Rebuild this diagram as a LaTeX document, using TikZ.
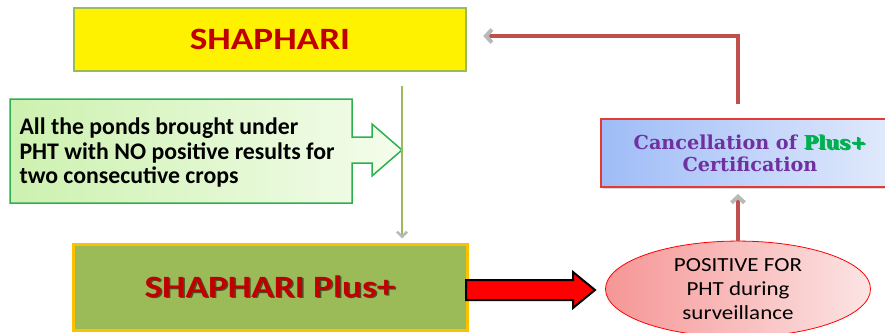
\documentclass[tikz,border=0pt]{standalone}
\usepackage{fontspec}
\setmainfont{Carlito}
\newfontfamily\widesans[FakeStretch=1.2]{Carlito}
\newfontfamily\ovalsans[FakeStretch=1.15]{Carlito}
\newfontfamily\slabserif{DejaVu Serif}
\usetikzlibrary{arrows.meta,shapes.geometric,shadows}
\definecolor{olivegreen}{HTML}{9BBB59}
\definecolor{darkred}{HTML}{C00000}
\definecolor{amber}{HTML}{FFC000}
\definecolor{linkred}{HTML}{C0504D}
\definecolor{calloutgreen}{HTML}{2DB04E}
\definecolor{purpletext}{HTML}{7030A0}
\definecolor{plusgreen}{HTML}{00B050}
\newcommand\ghosted[2]{\rlap{\color{#1}\kern1.5pt\raisebox{-1.5pt}{#2}}#2}
\begin{document}
\begin{tikzpicture}[x=1pt,y=-1pt,
  box/.style={draw,line width=2.5pt,minimum width=392pt,minimum height=63pt,
    font=\widesans\bfseries\fontsize{31}{31}\selectfont,text=darkred},
  redline/.style={draw=linkred,line width=4pt,
    -{Straight Barb[color=gray!55,length=6pt,width=13pt]}},
  greenline/.style={draw=olivegreen,line width=2.5pt,
    -{Straight Barb[color=gray!55,length=5pt,width=10pt]}}]
\path[use as bounding box] (0,0) rectangle (885,332);
\clip (0,0) rectangle (885,332);

\node[box,draw=olivegreen,fill=yellow] (shaphari) at (270,39.5) {SHAPHARI};
\node[box,draw=amber,fill=olivegreen,line width=3pt,minimum width=394pt,
  minimum height=86pt] (plus) at (270,287)
  {\ghosted{black!55!olivegreen}{SHAPHARI Plus+}};

% callout with the arrow
\path[draw=calloutgreen,line width=1.5pt,left color={rgb,255:red,205;green,241;blue,176},
  right color={rgb,255:red,244;green,253;blue,236}]
  (10,99) -- (352,99) -- (352,137) -- (372,137) -- (372,124) -- (402,150)
  -- (372,176) -- (372,163) -- (352,163) -- (352,203) -- (10,203) -- cycle;
\node[anchor=west,align=left,font=\bfseries\fontsize{23.8}{24.5}\selectfont]
  (ponds) at (16,153)
  {All the ponds brought under\\PHT with NO positive results for\\two consecutive crops};

\node[ellipse,draw=red,line width=0.8pt,minimum width=265pt,minimum height=88pt,
  left color={rgb,255:red,246;green,150;blue,150},
  right color={rgb,255:red,252;green,228;blue,228},
  align=center,font=\ovalsans\fontsize{20}{24}\selectfont] (positive) at (738,289)
  {POSITIVE FOR\\PHT during\\surveillance};

\node[draw={rgb,255:red,229;green,57;blue,53},line width=2pt,
  minimum width=298pt,minimum height=68pt,
  left color={rgb,255:red,158;green,188;blue,247},
  right color={rgb,255:red,227;green,235;blue,252},
  drop shadow={opacity=0.3,shadow xshift=2pt,shadow yshift=-2pt},
  align=center,text=purpletext,
  font=\slabserif\bfseries\fontsize{19.2}{22}\selectfont] (cancel) at (750,153)
  {Cancellation of \ghosted{gray!70}{\color{plusgreen}Plus+}\\Certification};

% red block arrow
\path[draw=black,line width=2pt,fill=red]
  (466,280) -- (573,280) -- (573,272) -- (595,290) -- (573,308) -- (573,300)
  -- (466,300) -- cycle;

\draw[greenline] ([xshift=132pt,yshift=-14pt]shaphari.south)
  -- ([xshift=132pt,yshift=4pt]plus.north);
\draw[redline,shorten >=6pt] (positive.north) -- (positive.north |- cancel.south);
\draw[redline] ([yshift=14pt]cancel.north -| positive.north)
  |- ([xshift=16pt,yshift=3.5pt]shaphari.east);
\end{tikzpicture}
\end{document}
